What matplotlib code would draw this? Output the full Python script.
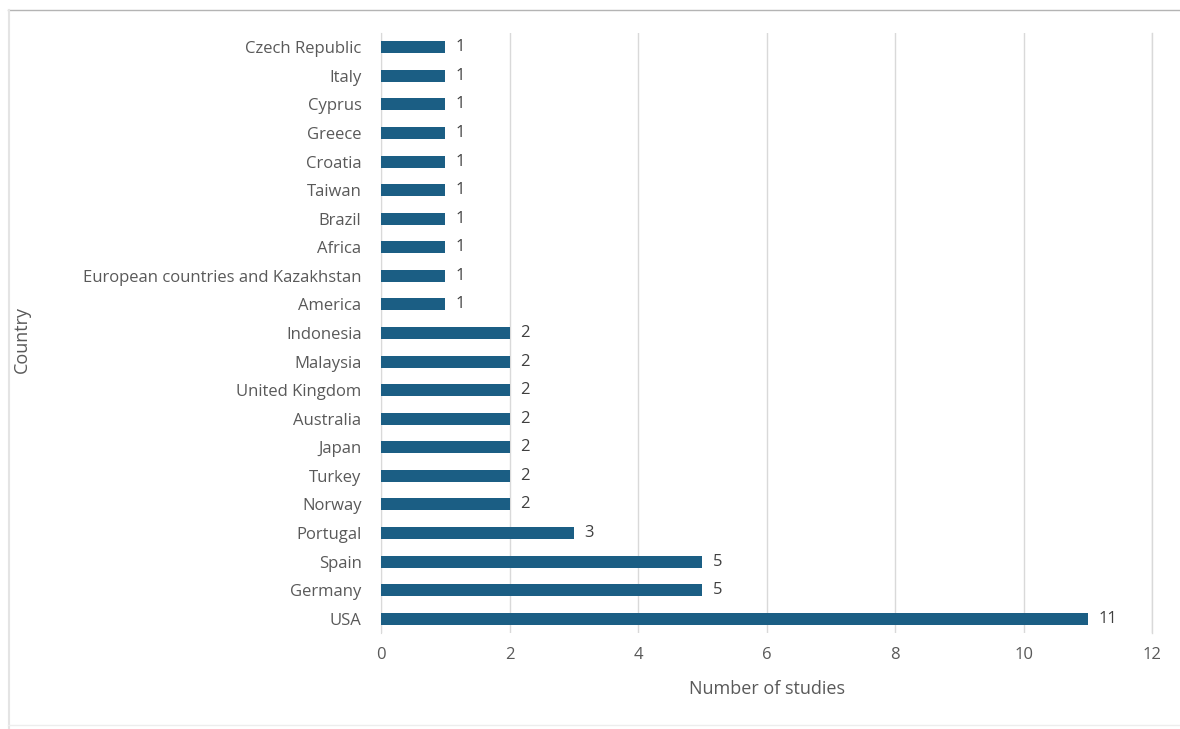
import matplotlib
matplotlib.use("Agg")
import matplotlib.pyplot as plt
from matplotlib.lines import Line2D

plt.rcParams['font.family'] = ['Open Sans', 'DejaVu Sans']

# bottom to top, as drawn
countries = ["USA", "Germany", "Spain", "Portugal", "Norway", "Turkey", "Japan",
             "Australia", "United Kingdom", "Malaysia", "Indonesia", "America",
             "European countries and Kazakhstan", "Africa", "Brazil", "Taiwan",
             "Croatia", "Greece", "Cyprus", "Italy", "Czech Republic"]
studies = [11, 5, 5, 3, 2, 2, 2, 2, 2, 2, 2, 1, 1, 1, 1, 1, 1, 1, 1, 1, 1]
xticks = [0, 2, 4, 6, 8, 10, 12]

bar_color = "#1b5e84"
text_color = "#595959"

W, H = 1180, 729
fig = plt.figure(figsize=(W / 100, H / 100), dpi=100)
ax = fig.add_axes([0.3229, 0.1317, 0.6534, 0.823])

y = range(len(countries))
ax.barh(y, studies, height=0.42, color=bar_color, zorder=3)
for yi, v in zip(y, studies):
    ax.text(v + 0.16, yi, str(v), va="center", ha="left", fontsize=12, color="#404040")

ax.set_xlim(0, 12)
ax.set_ylim(-0.5, len(countries) - 0.5)
ax.set_xticks(xticks)
ax.set_yticks(list(y))
ax.set_yticklabels(countries)
ax.tick_params(axis="both", length=0, labelsize=12, labelcolor=text_color)
ax.tick_params(axis="x", pad=10)
ax.tick_params(axis="y", pad=14)
ax.grid(axis="x", color="#d9d9d9", linewidth=1, zorder=0)
ax.axvline(12, color="#d9d9d9", linewidth=1, zorder=0, clip_on=False)
for s in ["top", "right", "bottom"]:
    ax.spines[s].set_visible(False)
ax.spines["left"].set_color("#d9d9d9")

ax.set_xlabel("Number of studies", fontsize=13, color=text_color, labelpad=12)
fig.text(22 / W, 1 - 340 / H, "Country", rotation=90, fontsize=13,
         color=text_color, ha="center", va="center")

# frame of the pasted picture: top line, left line, faint bottom line
fig.add_artist(Line2D([8 / W, 1], [1 - 9.5 / H] * 2, transform=fig.transFigure,
                      color="#b4b4b4", linewidth=1))
fig.add_artist(Line2D([8.5 / W] * 2, [0, 1 - 9.5 / H], transform=fig.transFigure,
                      color="#e4e4e4", linewidth=1.5))
fig.add_artist(Line2D([8 / W, 1], [1 - 725 / H] * 2, transform=fig.transFigure,
                      color="#ededed", linewidth=1))

fig.savefig("out.png", dpi=100)
